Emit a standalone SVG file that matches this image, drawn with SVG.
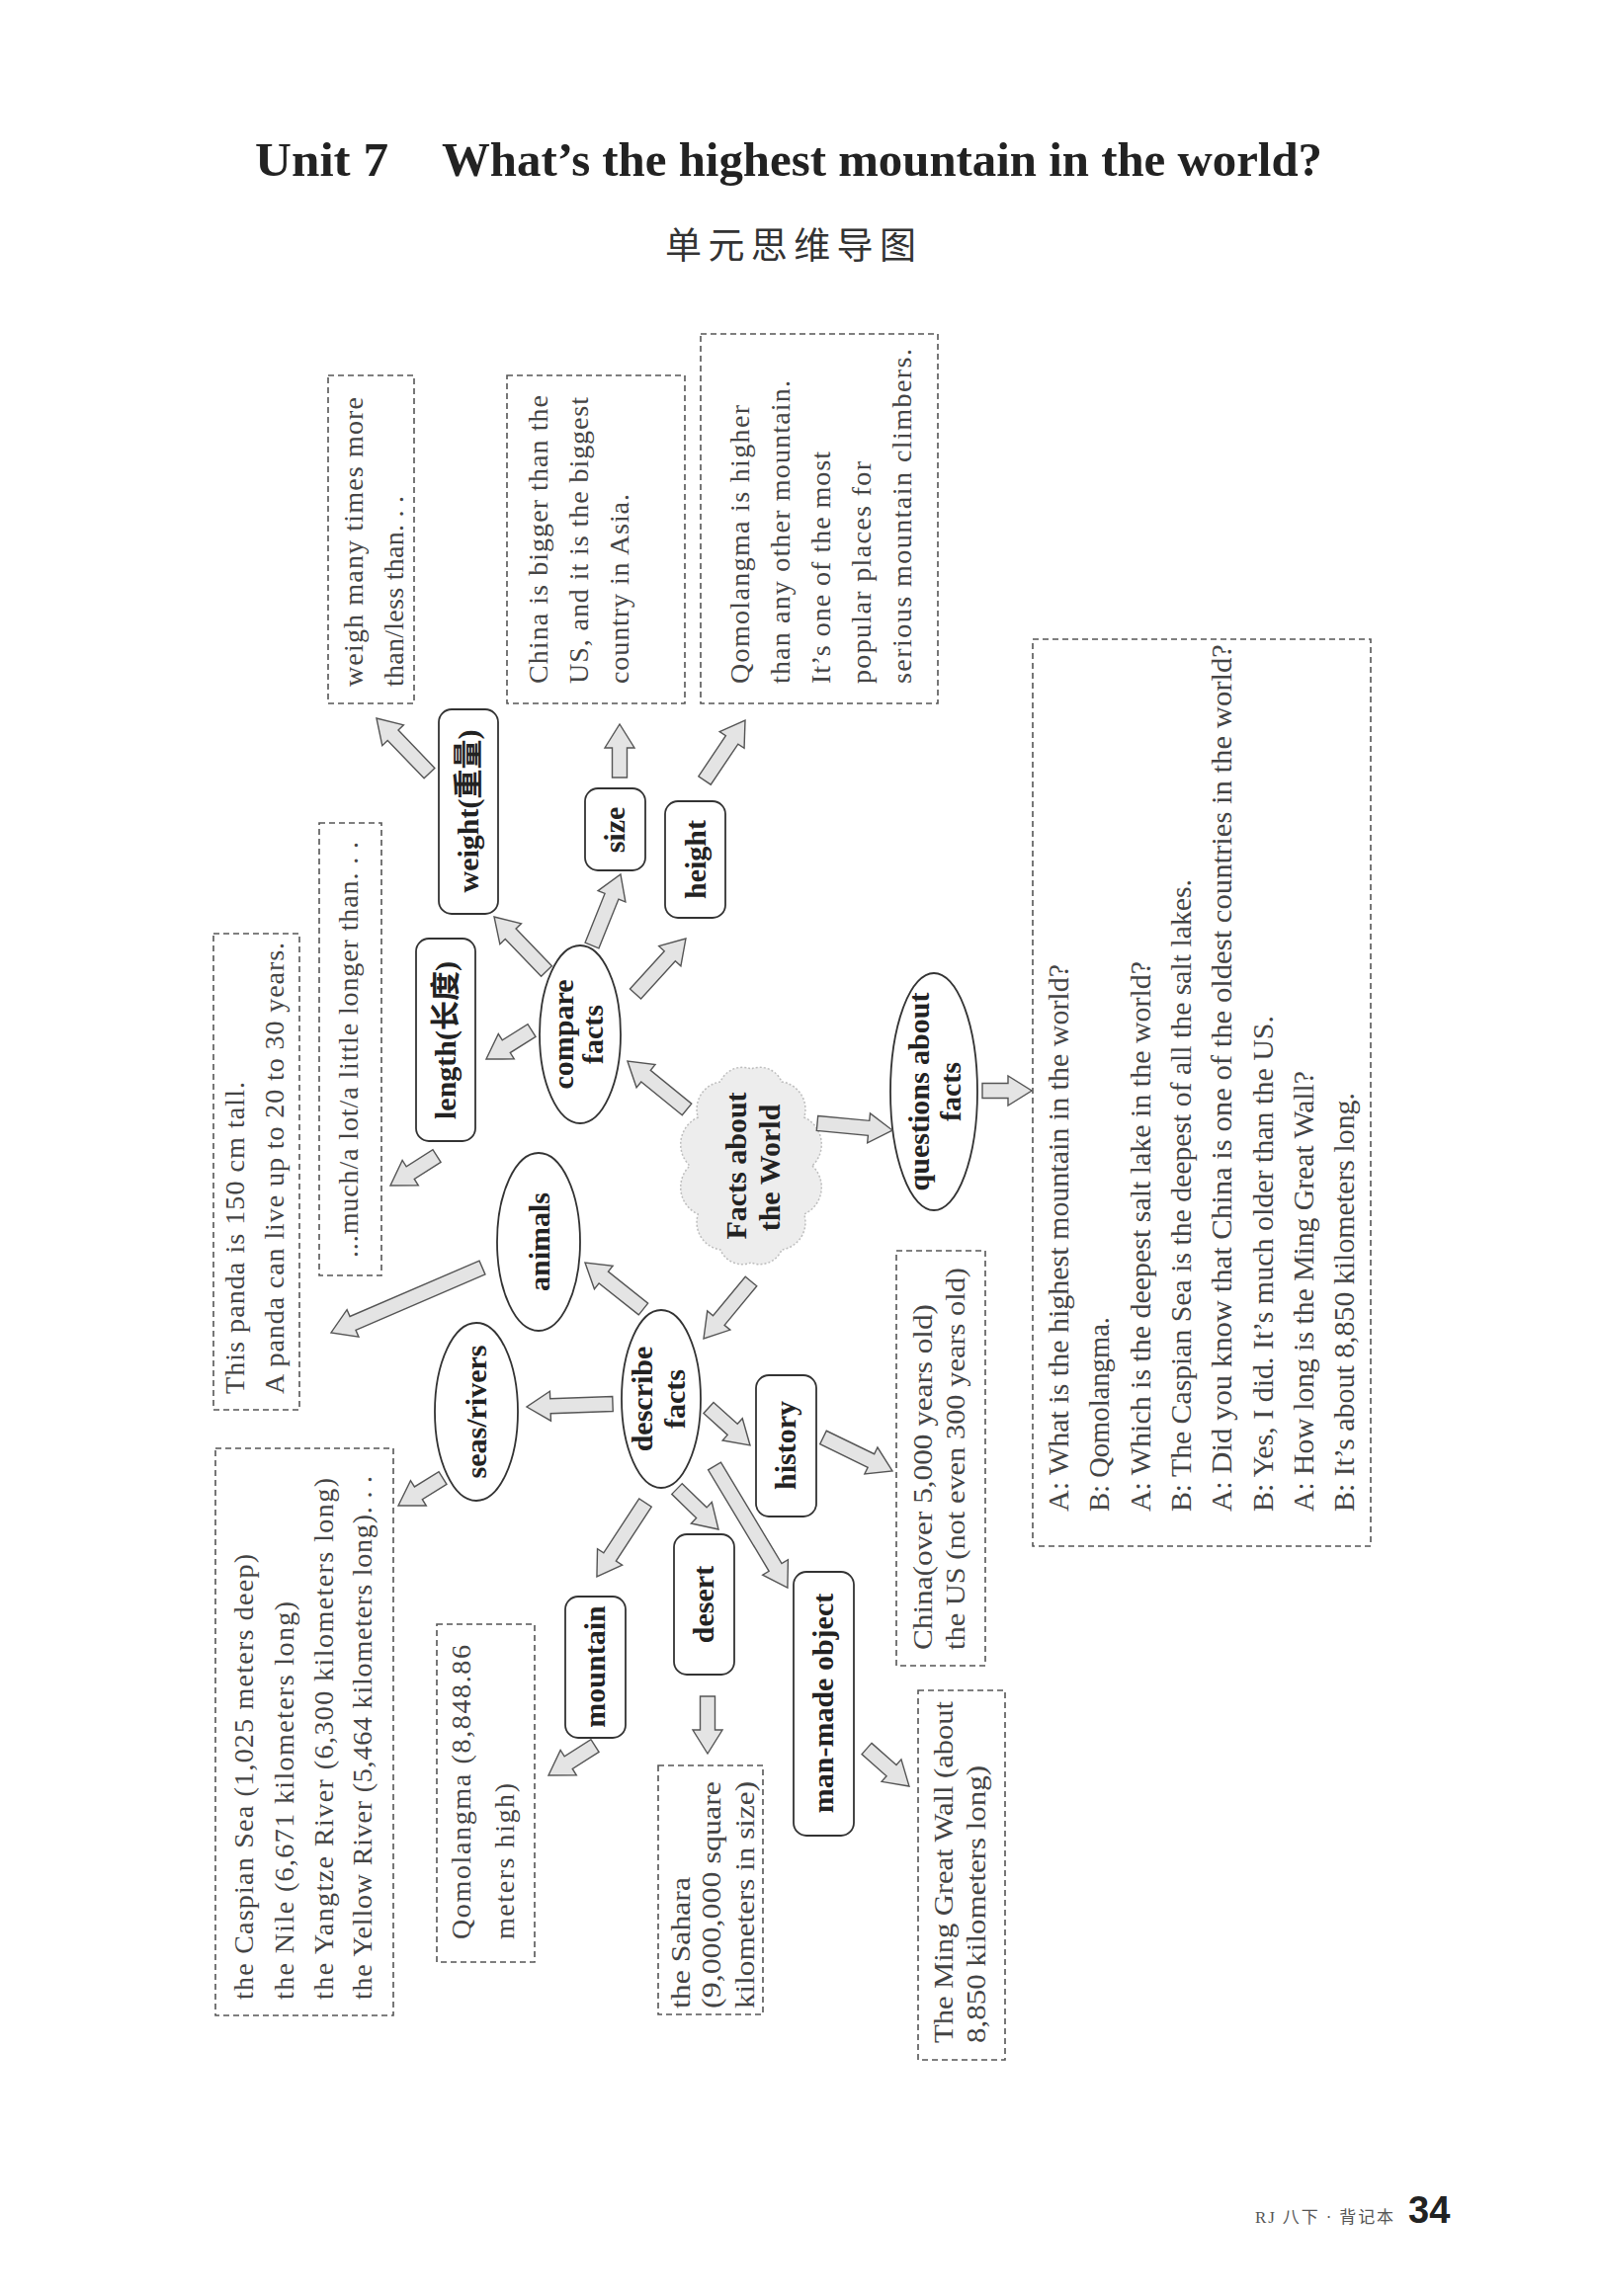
<svg xmlns="http://www.w3.org/2000/svg" width="1618" height="2324" viewBox="0 0 1618 2324">
<style>
.bg{fill:#fff}
.box{fill:none;stroke:#555;stroke-width:1.6;stroke-dasharray:6 4}
.node{fill:#fff;stroke:#333;stroke-width:1.8}
.cloud{fill:#ededed;stroke:#bdbdbd;stroke-width:1.5;stroke-dasharray:2 2}
.lbl{font-family:"Liberation Serif","Noto Sans CJK SC",serif;font-weight:bold;font-size:30px;fill:#222;text-anchor:middle}
.t{font-family:"Liberation Serif",serif;font-size:28px;fill:#444}
.tc{font-family:"Liberation Serif",serif;font-size:29px;fill:#444}
.arr{fill:#e4e4e4;stroke:#555;stroke-width:1.4}
.title{font-family:"Liberation Serif",serif;font-weight:bold;font-size:48px;fill:#222}
</style>
<rect class="bg" x="0" y="0" width="1618" height="2324"/>

<g id="title">
<text class="title" x="258" y="178" textLength="135" lengthAdjust="spacingAndGlyphs">Unit 7</text>
<text class="title" x="447" y="178" textLength="891" lengthAdjust="spacingAndGlyphs">What’s the highest mountain in the world?</text>
<text x="673" y="262" font-family="'Noto Sans CJK SC',sans-serif" font-size="37" fill="#333" textLength="254" lengthAdjust="spacing">单元思维导图</text>
</g>

<g id="footer">
<text x="1270" y="2250" font-family="'Liberation Serif','Noto Sans CJK SC',serif" font-size="17" fill="#555" textLength="140" lengthAdjust="spacing">RJ 八下 · 背记本</text>
<text x="1425" y="2250" font-family="'Liberation Sans',sans-serif" font-weight="bold" font-size="38" fill="#222">34</text>
</g>

<!-- dashed info boxes -->
<g id="box-weigh">
<rect class="box" x="332" y="380" width="87" height="332"/>
<text class="t" transform="translate(367,695) rotate(-90)" textLength="293" lengthAdjust="spacing">weigh many times more</text>
<text class="t" transform="translate(408,695) rotate(-90)" textLength="193" lengthAdjust="spacing">than/less than. . .</text>
</g>
<g id="box-size">
<rect class="box" x="513" y="380" width="180" height="332"/>
<text class="t" transform="translate(554,692) rotate(-90)" textLength="292" lengthAdjust="spacing">China is bigger than the</text>
<text class="t" transform="translate(595,692) rotate(-90)" textLength="290" lengthAdjust="spacing">US, and it is the biggest</text>
<text class="t" transform="translate(636,692) rotate(-90)" textLength="192" lengthAdjust="spacing">country in Asia.</text>
</g>
<g id="box-height">
<rect class="box" x="709" y="338" width="240" height="374"/>
<text class="t" transform="translate(758,692) rotate(-90)" textLength="282" lengthAdjust="spacing">Qomolangma is higher</text>
<text class="t" transform="translate(799,692) rotate(-90)" textLength="307" lengthAdjust="spacing">than any other mountain.</text>
<text class="t" transform="translate(840,692) rotate(-90)" textLength="235" lengthAdjust="spacing">It’s one of the most</text>
<text class="t" transform="translate(881,692) rotate(-90)" textLength="225" lengthAdjust="spacing">popular places for</text>
<text class="t" transform="translate(922,692) rotate(-90)" textLength="339" lengthAdjust="spacing">serious mountain climbers.</text>
</g>
<g id="box-questions">
<rect class="box" x="1045" y="647" width="342" height="918"/>
<text class="tc" transform="translate(1081,1530) rotate(-90)" textLength="554" lengthAdjust="spacingAndGlyphs">A: What is the highest mountain in the world?</text>
<text class="tc" transform="translate(1122.3,1530) rotate(-90)" textLength="197" lengthAdjust="spacingAndGlyphs">B: Qomolangma.</text>
<text class="tc" transform="translate(1163.6,1530) rotate(-90)" textLength="557" lengthAdjust="spacingAndGlyphs">A: Which is the deepest salt lake in the world?</text>
<text class="tc" transform="translate(1204.9,1530) rotate(-90)" textLength="640" lengthAdjust="spacingAndGlyphs">B: The Caspian Sea is the deepest of all the salt lakes.</text>
<text class="tc" transform="translate(1246.2,1530) rotate(-90)" textLength="878" lengthAdjust="spacingAndGlyphs">A: Did you know that China is one of the oldest countries in the world?</text>
<text class="tc" transform="translate(1287.5,1530) rotate(-90)" textLength="502" lengthAdjust="spacingAndGlyphs">B: Yes, I did. It’s much older than the US.</text>
<text class="tc" transform="translate(1328.8,1530) rotate(-90)" textLength="446" lengthAdjust="spacingAndGlyphs">A: How long is the Ming Great Wall?</text>
<text class="tc" transform="translate(1370.1,1530) rotate(-90)" textLength="424" lengthAdjust="spacingAndGlyphs">B: It’s about 8,850 kilometers long.</text>
</g>
<g id="box-length">
<rect class="box" x="323" y="833" width="63" height="458"/>
<text class="t" transform="translate(362,1273) rotate(-90)" textLength="421" lengthAdjust="spacing">...much/a lot/a little longer than. . .</text>
</g>
<g id="box-panda">
<rect class="box" x="216" y="945" width="87" height="482"/>
<text class="t" transform="translate(247,1411) rotate(-90)" textLength="316" lengthAdjust="spacing">This panda is 150 cm tall.</text>
<text class="t" transform="translate(287,1411) rotate(-90)" textLength="457" lengthAdjust="spacing">A panda can live up to 20 to 30 years.</text>
</g>
<g id="box-seas">
<rect class="box" x="218" y="1466" width="180" height="574"/>
<text class="t" transform="translate(256,2024) rotate(-90)" textLength="451" lengthAdjust="spacing">the Caspian Sea (1,025 meters deep)</text>
<text class="t" transform="translate(297,2024) rotate(-90)" textLength="403" lengthAdjust="spacing">the Nile (6,671 kilometers long)</text>
<text class="t" transform="translate(337,2024) rotate(-90)" textLength="528" lengthAdjust="spacing">the Yangtze River (6,300 kilometers long)</text>
<text class="t" transform="translate(376,2024) rotate(-90)" textLength="530" lengthAdjust="spacing">the Yellow River (5,464 kilometers long). . .</text>
</g>
<g id="box-mountain">
<rect class="box" x="442" y="1644" width="99" height="342"/>
<text class="t" transform="translate(476,1963) rotate(-90)" textLength="298" lengthAdjust="spacing">Qomolangma (8,848.86</text>
<text class="t" transform="translate(520,1963) rotate(-90)" textLength="158" lengthAdjust="spacing">meters high)</text>
</g>
<g id="box-desert">
<rect class="box" x="666" y="1787" width="106" height="252"/>
<text class="t" font-size="25" transform="translate(698,2033) rotate(-90)" textLength="133" lengthAdjust="spacingAndGlyphs">the Sahara</text>
<text class="t" font-size="25" transform="translate(729,2033) rotate(-90)" textLength="230" lengthAdjust="spacingAndGlyphs">(9,000,000 square</text>
<text class="t" font-size="25" transform="translate(763,2033) rotate(-90)" textLength="230" lengthAdjust="spacingAndGlyphs">kilometers in size)</text>
</g>
<g id="box-history">
<rect class="box" x="907" y="1266" width="90" height="420"/>
<text class="t" font-size="27" transform="translate(943,1670) rotate(-90)" textLength="350" lengthAdjust="spacingAndGlyphs">China(over 5,000 years old)</text>
<text class="t" font-size="27" transform="translate(976,1670) rotate(-90)" textLength="387" lengthAdjust="spacingAndGlyphs">the US (not even 300 years old)</text>
</g>
<g id="box-object">
<rect class="box" x="929" y="1711" width="88" height="374"/>
<text class="t" font-size="27" transform="translate(964,2068) rotate(-90)" textLength="346" lengthAdjust="spacingAndGlyphs">The Ming Great Wall (about</text>
<text class="t" font-size="27" transform="translate(997,2068) rotate(-90)" textLength="281" lengthAdjust="spacingAndGlyphs">8,850 kilometers long)</text>
</g>

<!-- nodes -->
<g id="node-facts">
<path class="cloud" d="M822,1180 A30,30 0 0 1 813.7,1229 A28,28 0 0 1 791,1265 A24,24 0 0 1 760,1278 A24,24 0 0 1 729,1265 A28,28 0 0 1 706.3,1229 A30,30 0 0 1 698,1180 A30,30 0 0 1 706.3,1131 A28,28 0 0 1 729,1095 A24,24 0 0 1 760,1082 A24,24 0 0 1 791,1095 A28,28 0 0 1 813.7,1131 A30,30 0 0 1 822,1180 Z"/>
<text class="lbl" transform="translate(760,1180) rotate(-90)" y="-5">Facts about</text>
<text class="lbl" transform="translate(760,1182) rotate(-90)" y="29">the World</text>
</g>
<g id="node-compare">
<ellipse class="node" cx="587" cy="1047" rx="41" ry="90"/>
<text class="lbl" transform="translate(587,1047) rotate(-90)" y="-7">compare</text>
<text class="lbl" transform="translate(587,1047) rotate(-90)" y="23">facts</text>
</g>
<g id="node-questions">
<ellipse class="node" cx="945" cy="1105" rx="44" ry="120"/>
<text class="lbl" transform="translate(945,1105) rotate(-90)" y="-5">questions about</text>
<text class="lbl" transform="translate(945,1105) rotate(-90)" y="27">facts</text>
</g>
<g id="node-describe">
<ellipse class="node" cx="669" cy="1416" rx="40" ry="90"/>
<text class="lbl" transform="translate(669,1416) rotate(-90)" y="-9">describe</text>
<text class="lbl" transform="translate(669,1416) rotate(-90)" y="24">facts</text>
</g>
<g id="node-animals">
<ellipse class="node" cx="545" cy="1257" rx="42" ry="90"/>
<text class="lbl" transform="translate(545,1257) rotate(-90)" y="11">animals</text>
</g>
<g id="node-seas">
<ellipse class="node" cx="482" cy="1429" rx="42" ry="90"/>
<text class="lbl" transform="translate(482,1429) rotate(-90)" y="10">seas/rivers</text>
</g>
<g id="node-weight">
<rect class="node" x="444" y="718" width="60" height="207" rx="13"/>
<text class="lbl" transform="translate(474,821) rotate(-90)" y="10">weight(重量)</text>
</g>
<g id="node-size">
<rect class="node" x="592" y="798" width="61" height="83" rx="13"/>
<text class="lbl" transform="translate(622,840) rotate(-90)" y="10">size</text>
</g>
<g id="node-height">
<rect class="node" x="673" y="811" width="61" height="118" rx="13"/>
<text class="lbl" transform="translate(704,870) rotate(-90)" y="10">height</text>
</g>
<g id="node-length">
<rect class="node" x="421" y="950" width="60" height="205" rx="13"/>
<text class="lbl" transform="translate(451,1053) rotate(-90)" y="10">length(长度)</text>
</g>
<g id="node-history">
<rect class="node" x="765" y="1392" width="61" height="143" rx="13"/>
<text class="lbl" transform="translate(795,1463) rotate(-90)" y="10">history</text>
</g>
<g id="node-mountain">
<rect class="node" x="572" y="1616" width="61" height="143" rx="13"/>
<text class="lbl" transform="translate(602,1687) rotate(-90)" y="10">mountain</text>
</g>
<g id="node-desert">
<rect class="node" x="682" y="1553" width="61" height="142" rx="13"/>
<text class="lbl" transform="translate(712,1624) rotate(-90)" y="10">desert</text>
</g>
<g id="node-object">
<rect class="node" x="803" y="1591" width="61" height="267" rx="13"/>
<text class="lbl" transform="translate(833,1724) rotate(-90)" y="10">man-made object</text>
</g>

<!-- connectors -->
<g id="connectors">
<path class="arr" transform="translate(434.5,782.6) rotate(-133.9)" d="M0,-7.5 H53.2 V-15 L77.2,0 L53.2,15 V7.5 H0 Z"/>
<path class="arr" transform="translate(627,787) rotate(-90)" d="M0,-7.5 H30 V-15 L54,0 L30,15 V7.5 H0 Z"/>
<path class="arr" transform="translate(713,790) rotate(-56.1)" d="M0,-7.5 H49.5 V-15 L73.5,0 L49.5,15 V7.5 H0 Z"/>
<path class="arr" transform="translate(553,983) rotate(-133.9)" d="M0,-7.5 H52.4 V-15 L76.4,0 L52.4,15 V7.5 H0 Z"/>
<path class="arr" transform="translate(599,957) rotate(-68.1)" d="M0,-7.5 H53.6 V-15 L77.6,0 L53.6,15 V7.5 H0 Z"/>
<path class="arr" transform="translate(643,1006) rotate(-47.7)" d="M0,-7.5 H51.7 V-15 L75.7,0 L51.7,15 V7.5 H0 Z"/>
<path class="arr" transform="translate(538,1043) rotate(147.8)" d="M0,-7.5 H30.4 V-15 L54.4,0 L30.4,15 V7.5 H0 Z"/>
<path class="arr" transform="translate(442,1170) rotate(147.4)" d="M0,-7.5 H31.8 V-15 L55.8,0 L31.8,15 V7.5 H0 Z"/>
<path class="arr" transform="translate(695,1123) rotate(-140.8)" d="M0,-7.5 H53.5 V-15 L77.5,0 L53.5,15 V7.5 H0 Z"/>
<path class="arr" transform="translate(827,1137) rotate(5.3)" d="M0,-7.5 H52.3 V-15 L76.3,0 L52.3,15 V7.5 H0 Z"/>
<path class="arr" transform="translate(994,1104)" d="M0,-7.5 H26 V-15 L50,0 L26,15 V7.5 H0 Z"/>
<path class="arr" transform="translate(760,1297) rotate(129.6)" d="M0,-7.5 H51.3 V-15 L75.3,0 L51.3,15 V7.5 H0 Z"/>
<path class="arr" transform="translate(651,1325) rotate(-141.5)" d="M0,-7.5 H51.4 V-15 L75.4,0 L51.4,15 V7.5 H0 Z"/>
<path class="arr" transform="translate(488,1283) rotate(156.7)" d="M0,-7.5 H142.6 V-15 L166.6,0 L142.6,15 V7.5 H0 Z"/>
<path class="arr" transform="translate(620,1421) rotate(178)" d="M0,-7.5 H63.1 V-15 L87.1,0 L63.1,15 V7.5 H0 Z"/>
<path class="arr" transform="translate(448,1496) rotate(148.1)" d="M0,-7.5 H29 V-15 L53,0 L29,15 V7.5 H0 Z"/>
<path class="arr" transform="translate(717,1425) rotate(42.1)" d="M0,-7.5 H32.6 V-15 L56.6,0 L32.6,15 V7.5 H0 Z"/>
<path class="arr" transform="translate(833,1455) rotate(25.9)" d="M0,-7.5 H53.8 V-15 L77.8,0 L53.8,15 V7.5 H0 Z"/>
<path class="arr" transform="translate(723,1484) rotate(59)" d="M0,-7.5 H119.5 V-15 L143.5,0 L119.5,15 V7.5 H0 Z"/>
<path class="arr" transform="translate(685,1507) rotate(44.3)" d="M0,-7.5 H34.7 V-15 L58.7,0 L34.7,15 V7.5 H0 Z"/>
<path class="arr" transform="translate(653,1521) rotate(123.2)" d="M0,-7.5 H65.6 V-15 L89.6,0 L65.6,15 V7.5 H0 Z"/>
<path class="arr" transform="translate(602,1767) rotate(147.4)" d="M0,-7.5 H31.8 V-15 L55.8,0 L31.8,15 V7.5 H0 Z"/>
<path class="arr" transform="translate(716,1717) rotate(90)" d="M0,-7.5 H34 V-15 L58,0 L34,15 V7.5 H0 Z"/>
<path class="arr" transform="translate(877,1770) rotate(41.5)" d="M0,-7.5 H33.4 V-15 L57.4,0 L33.4,15 V7.5 H0 Z"/>
</g>
</svg>
